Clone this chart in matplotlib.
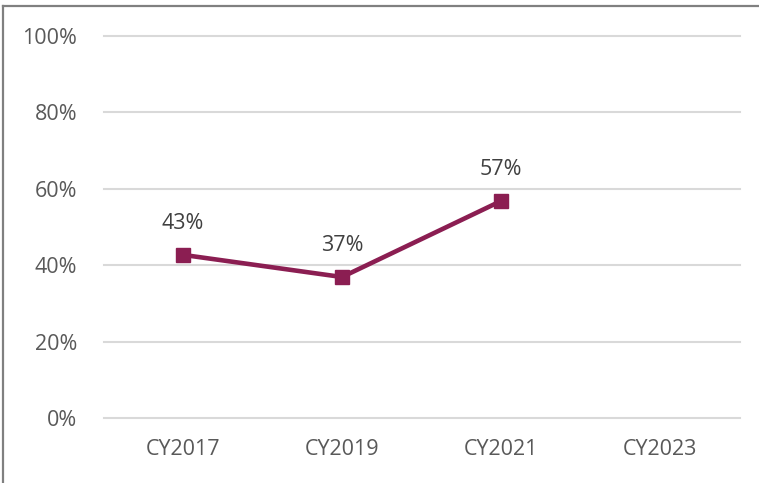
import matplotlib.pyplot as plt
from matplotlib.lines import Line2D
from matplotlib.ticker import PercentFormatter

plt.rcParams['font.family'] = ['Open Sans', 'DejaVu Sans']

categories = ['CY2017', 'CY2019', 'CY2021', 'CY2023']
values = [0.427, 0.369, 0.568]
value_labels = ['43%', '37%', '57%']

fig = plt.figure(figsize=(7.59, 4.83), dpi=100)
ax = fig.add_axes([0.1364, 0.1346, 0.838, 0.7909])

# outer border of the chart (only top and left edges visible, image is cropped)
fig.add_artist(Line2D([0.0046, 1.0], [0.9876, 0.9876], transform=fig.transFigure,
                      color='#808080', linewidth=1.6))
fig.add_artist(Line2D([0.0046, 0.0046], [0.0, 0.9876], transform=fig.transFigure,
                      color='#808080', linewidth=1.6))

x = list(range(len(values)))
ax.plot(x, values, color='#8B1E52', linewidth=3.3, marker='s', markersize=10, zorder=3)
for xi, v, lab in zip(x, values, value_labels):
    ax.annotate(lab, (xi, v), xytext=(0, 15), textcoords='offset points',
                ha='center', va='bottom', fontsize=15.5, color='#404040')

ax.set_xlim(-0.5, len(categories) - 0.5)
ax.set_ylim(0, 1.0)
ax.set_xticks(range(len(categories)))
ax.set_xticklabels(categories)
ax.set_yticks([0, 0.2, 0.4, 0.6, 0.8, 1.0])
ax.yaxis.set_major_formatter(PercentFormatter(1.0, decimals=0))
ax.tick_params(axis='both', length=0, labelsize=15.5, labelcolor='#595959')
ax.tick_params(axis='y', pad=19)
ax.tick_params(axis='x', pad=15)
ax.grid(axis='y', color='#D9D9D9', linewidth=1.5)
for gl in ax.get_ygridlines():
    gl.set_clip_on(False)
ax.set_axisbelow(True)
for s in ax.spines.values():
    s.set_visible(False)

fig.savefig('out.png', dpi=100)
